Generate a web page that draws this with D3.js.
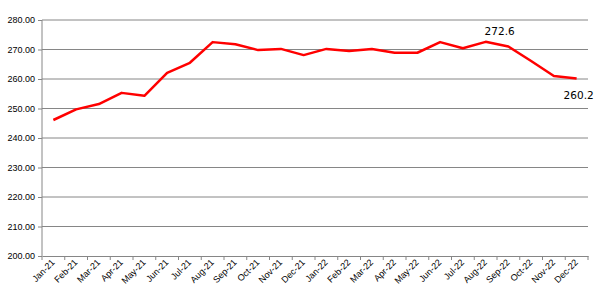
<!DOCTYPE html>
<html>
<head>
<meta charset="utf-8">
<script src="https://cdn.jsdelivr.net/npm/d3@7"></script>
<style>
body { margin: 0; background: #fff; }
</style>
</head>
<body>
<div id="chart"></div>
<script>
var width = 595;
var height = 293;
var margin = {top: 20, right: 7, bottom: 37, left: 42};

// data
var months = ['Jan-21','Feb-21','Mar-21','Apr-21','May-21','Jun-21','Jul-21','Aug-21','Sep-21','Oct-21','Nov-21','Dec-21',
	'Jan-22','Feb-22','Mar-22','Apr-22','May-22','Jun-22','Jul-22','Aug-22','Sep-22','Oct-22','Nov-22','Dec-22'];
var prices = [246.1, 249.7, 251.5, 255.3, 254.3, 262.1, 265.5, 272.5, 271.8, 269.8, 270.2, 268.1,
	270.2, 269.5, 270.2, 268.9, 268.9, 272.5, 270.4, 272.6, 271.0, 266.1, 261.0, 260.2];
var yTicks = [200, 210, 220, 230, 240, 250, 260, 270, 280];
var labelled = [{i: 19, text: '272.6', dx: 14, dy: -7}, {i: 23, text: '260.2', dx: 2, dy: 21}];

var svg = d3.select('#chart')
	.append('svg')
	.attr('width', width)
	.attr('height', height);

var x = d3.scaleBand()
	.domain(months)
	.range([margin.left, width - margin.right]);

var y = d3.scaleLinear()
	.domain([200, 280])
	.range([height - margin.bottom, margin.top]);

//gridlines
svg.append('g')
	.selectAll('line')
	.data(yTicks.slice(1))
	.enter().append('line')
	.attr('x1', margin.left)
	.attr('x2', width - margin.right)
	.attr('y1', function(d) { return y(d); })
	.attr('y2', function(d) { return y(d); })
	.attr('stroke', '#868686')
	.attr('stroke-width', 1);

//y axis
var yAxis = svg.append('g')
	.attr('transform', 'translate(' + margin.left + ',0)')
	.call(d3.axisLeft(y).tickValues(yTicks).tickFormat(d3.format('.2f')).tickSize(4).tickPadding(3));

//x axis, ticks on category boundaries
var xAxis = svg.append('g')
	.attr('transform', 'translate(0,' + (height - margin.bottom) + ')')
	.call(d3.axisBottom(x).tickSize(0).tickPadding(0));

var bounds = months.map(function(m) { return x(m); }).concat([x.range()[1]]);
xAxis.selectAll('.bound')
	.data(bounds)
	.enter().append('line')
	.attr('class', 'bound')
	.attr('x1', function(d) { return d; })
	.attr('x2', function(d) { return d; })
	.attr('y1', 0)
	.attr('y2', 4)
	.attr('stroke', '#868686');

xAxis.selectAll('.tick text')
	.attr('text-anchor', 'end')
	.attr('dy', 0)
	.attr('transform', 'translate(2,7) rotate(-45)');

[yAxis, xAxis].forEach(function(a) {
	a.select('.domain').attr('stroke', '#868686');
	a.selectAll('.tick line').attr('stroke', '#868686');
	a.selectAll('text')
		.style('font-family', '"Liberation Sans", Arial, sans-serif')
		.style('font-size', '9px')
		.attr('fill', '#000');
});
yAxis.select('.domain').attr('d', 'M0,' + y(200) + 'V' + y(280));

//the line
var line = d3.line()
	.x(function(d, i) { return x(months[i]) + x.bandwidth() / 2; })
	.y(function(d) { return y(d); });

svg.append('path')
	.datum(prices)
	.attr('d', line)
	.attr('fill', 'none')
	.attr('stroke', '#ff0000')
	.attr('stroke-width', 2.5)
	.attr('stroke-linejoin', 'round');

//data labels
svg.selectAll('.dlabel')
	.data(labelled)
	.enter().append('text')
	.attr('class', 'dlabel')
	.attr('x', function(d) { return x(months[d.i]) + x.bandwidth() / 2 + d.dx; })
	.attr('y', function(d) { return y(prices[d.i]) + d.dy; })
	.attr('text-anchor', 'middle')
	.style('font-family', '"DejaVu Sans", Verdana, sans-serif')
	.style('font-size', '10.5px')
	.text(function(d) { return d.text; });
</script>
</body>
</html>
